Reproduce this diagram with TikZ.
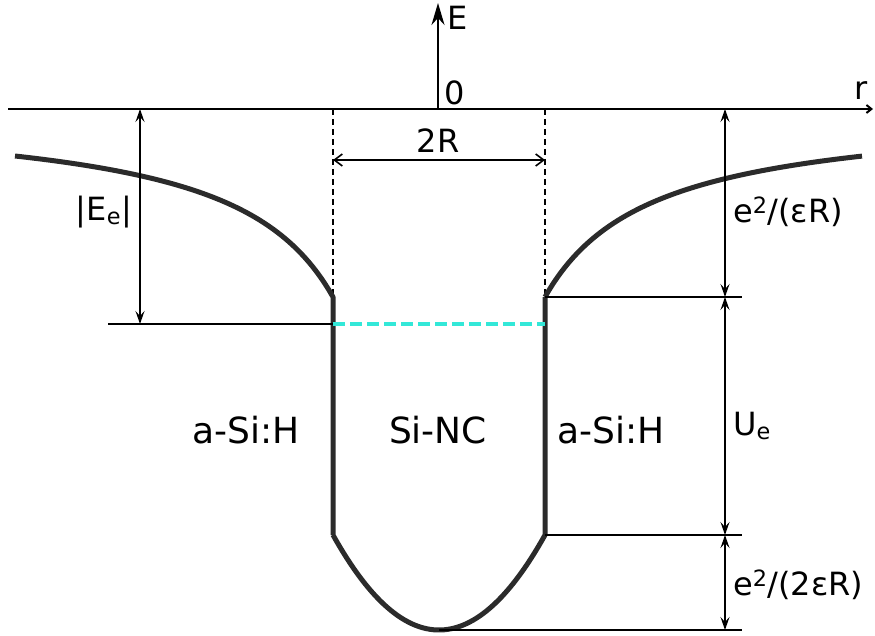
\documentclass[tikz,border=0pt]{standalone}
\usepackage{fontspec}
\setmainfont{DejaVu Sans}
\usetikzlibrary{arrows.meta}
\definecolor{curvecol}{HTML}{2B2B2B}
\definecolor{levelcol}{HTML}{33E8D8}
\tikzset{
  axisline/.style={line width=2pt, black},
  thinline/.style={line width=1.6pt, black},
  dimarrow/.style={line width=1.6pt, black, {Stealth[length=13pt,width=9pt,inset=5pt]}-{Stealth[length=13pt,width=9pt,inset=5pt]}},
  widtharrow/.style={line width=1.6pt, black, {Straight Barb[length=8pt,width=12pt]}-{Straight Barb[length=8pt,width=12pt]}},
  guide/.style={line width=1.3pt, black, dash pattern=on 6pt off 4pt},
  potential/.style={line width=5pt, curvecol, line join=round},
  level/.style={line width=4pt, levelcol, dash pattern=on 12pt off 5pt},
  biglabel/.style={font=\fontsize{36}{40}\selectfont, inner sep=0pt},
  label/.style={font=\fontsize{32}{36}\selectfont, inner sep=0pt},
}
\begin{document}
\begin{tikzpicture}[x=1pt,y=-1pt]
\useasboundingbox (0,0) rectangle (875,636);
% coordinates
\coordinate (axL) at (8,109);
\coordinate (axR) at (873,109);
\coordinate (O) at (438,109);
\coordinate (Etop) at (438,3);
\coordinate (dL) at (333,109);
\coordinate (dR) at (545,109);
\coordinate (wL) at (333,297);
\coordinate (wR) at (545,297);
\coordinate (bL) at (333,535);
\coordinate (bR) at (545,535);
\coordinate (bot) at (439,630);
\coordinate (lvL) at (333,324);
\coordinate (lvR) at (545,324);
\coordinate (lvE) at (108,324);
\coordinate (wLend) at (333,300);
\coordinate (wRend) at (545,300);
\coordinate (t1) at (742,297);
\coordinate (t2) at (742,535);
\coordinate (t3) at (742,630);
\coordinate (aTop) at (725,109);
\coordinate (a1) at (725,297);
\coordinate (a2) at (725,535);
\coordinate (a3) at (725,630);
\coordinate (eTop) at (140,109);
\coordinate (eBot) at (140,324);
\coordinate (rL) at (333,160);
\coordinate (rR) at (545,160);

% axes
\draw[axisline, -{Straight Barb[length=5pt,width=8pt]}] (axL) -- (axR);
\draw[axisline, -{Stealth[length=22pt,width=13pt,inset=7pt]}] (O) -- (Etop);
\node[label, anchor=west] (Elab) at (447,18) {E};
\node[label, anchor=west] (zero) at (444,93) {0};
\node[label] (rlab) at (861,91) {r};

% guides
\draw[guide] (dL) -- (wLend);
\draw[guide] (dR) -- (wRend);
\draw[widtharrow] (rL) -- (rR);
\node[label] (tworR) at (438,141) {2R};

% potential
\draw[potential] plot[domain=-424:-106, samples=80] ({439+\x},{109-188/(\x/106)}) -- (bL)
  plot[domain=-106:106, samples=60] ({439+\x},{630-95*(\x/106)*(\x/106)}) -- (wR)
  plot[domain=106:423, samples=80] ({439+\x},{109+188/(\x/106)});

% level
\draw[thinline] (lvE) -- (lvL);
\draw[level] (lvL) -- (lvR);
\draw[dimarrow] (eTop) -- (eBot);
\node[label] (Ee) at (104,212) {|E\textsubscript{e}|};

% right dimension lines
\draw[thinline] (wR) -- (t1);
\draw[thinline] (bR) -- (t2);
\draw[thinline] (bot) -- (t3);
\draw[dimarrow] (aTop) -- (a1);
\draw[dimarrow] (a1) -- (a2);
\draw[dimarrow] (a2) -- (a3);
\node[label, anchor=west] (lab1) at (733,212) {e\textsuperscript{2}/(εR)};
\node[label, anchor=west] (lab2) at (733,426) {U\textsubscript{e}};
\node[label, anchor=west] (lab3) at (733,585) {e\textsuperscript{2}/(2εR)};

% regions
\node[biglabel] (aSiL) at (246,430) {a-Si:H};
\node[biglabel] (SiNC) at (438,430) {Si-NC};
\node[biglabel] (aSiR) at (611,430) {a-Si:H};
\end{tikzpicture}
\end{document}
